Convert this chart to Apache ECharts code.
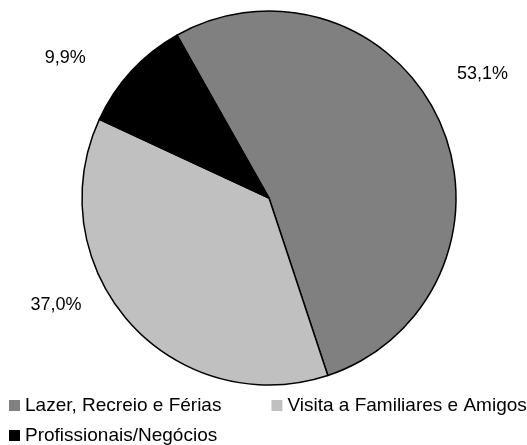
<!DOCTYPE html>
<html>
<head>
<meta charset="utf-8">
<script src="https://cdn.jsdelivr.net/npm/echarts@6/dist/echarts.min.js"></script>
<style>
  html, body { margin: 0; padding: 0; background: #fff; }
  #chart { width: 527px; height: 445px; }
</style>
</head>
<body>
<div id="chart"></div>
<script>
var categories = ['Lazer, Recreio e Férias', 'Visita a Familiares e Amigos', 'Profissionais/Negócios'];
var values = [53.1, 37.0, 9.9];
var labels = ['53,1%', '37,0%', '9,9%'];
var colors = ['#808080', '#c0c0c0', '#000000'];

var myChart = echarts.init(document.getElementById('chart'));
var font = "'Liberation Sans', Arial, sans-serif";

// nudges so labels sit where the original put them
var nudge = [[1, -43], [-34, -25], [-32, -5]];

var legendText = { fontFamily: font, fontSize: 19, color: '#000' };

var option = {
    animation: false,
    color: colors,
    legend: [
        {
            data: [categories[0], categories[1]],
            left: 9,
            top: 396,
            padding: 0,
            icon: 'rect',
            itemWidth: 11,
            itemHeight: 11,
            itemGap: 50,
            itemStyle: { borderWidth: 0 },
            textStyle: legendText
        },
        {
            data: [categories[2]],
            left: 9,
            top: 426,
            padding: 0,
            icon: 'rect',
            itemWidth: 11,
            itemHeight: 11,
            itemStyle: { borderWidth: 0 },
            textStyle: legendText
        }
    ],
    series: [
        {
            type: 'pie',
            center: [269, 198],
            radius: 187,
            startAngle: 119.5,
            clockwise: true,
            avoidLabelOverlap: false,
            itemStyle: { borderColor: '#000', borderWidth: 1.5 },
            label: {
                show: true,
                position: 'outside',
                fontFamily: font,
                fontSize: 18,
                color: '#000',
                formatter: function (p) { return labels[p.dataIndex]; }
            },
            labelLine: { show: false, length: 12, length2: 0 },
            labelLayout: function (p) {
                return { dx: nudge[p.dataIndex][0], dy: nudge[p.dataIndex][1] };
            },
            emphasis: { disabled: true },
            data: categories.map(function (c, i) {
                return { name: c, value: values[i] };
            })
        }
    ]
};

myChart.setOption(option);
</script>
</body>
</html>
